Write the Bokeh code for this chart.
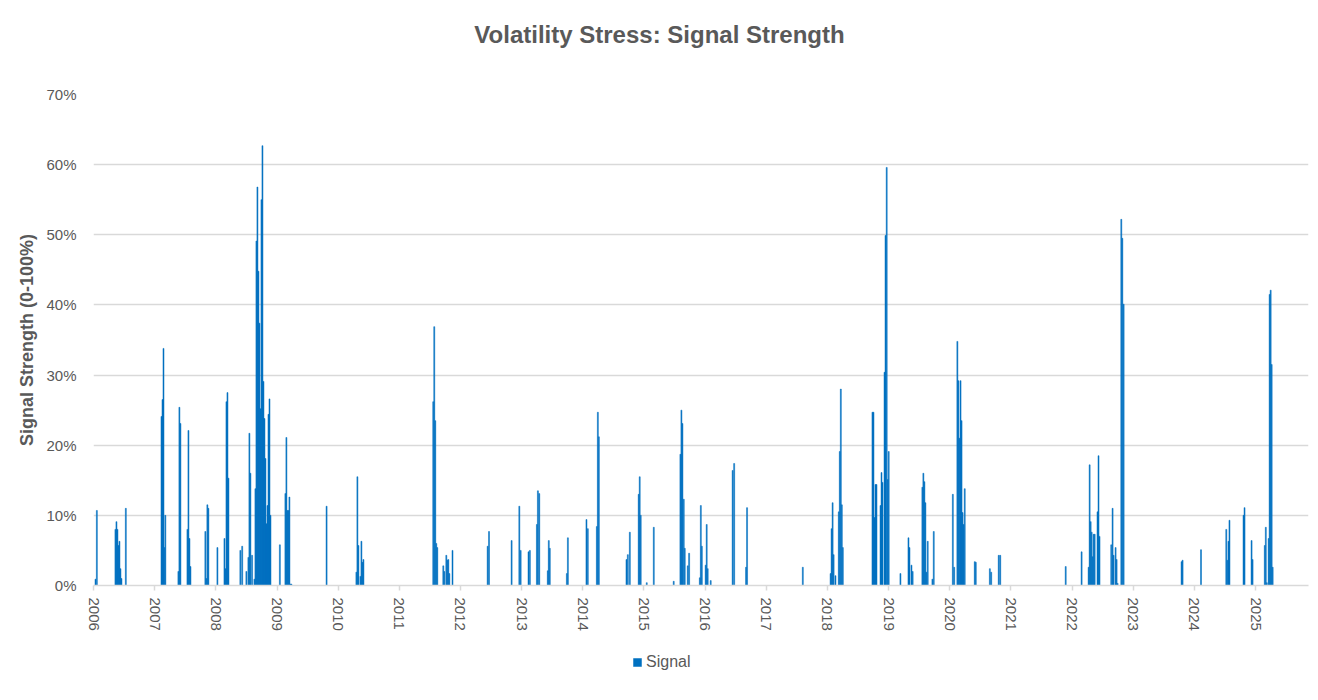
from datetime import datetime
import pandas as pd
from bokeh.plotting import figure
from bokeh.layouts import column
from bokeh.models import (Range1d, FixedTicker, NumeralTickFormatter, DatetimeTickFormatter,
                          Legend, LegendItem, Label, ColumnDataSource)
from bokeh.embed import file_html
from bokeh.resources import INLINE

title_text = "Volatility Stress: Signal Strength"
y_label = "Signal Strength (0-100%)"
series_name = "Signal"
year_ticks = list(range(2006, 2026))
y_tick_pct = [0, 10, 20, 30, 40, 50, 60, 70]

dates = [
    "2006-01-13", "2006-01-21", "2006-05-12", "2006-05-18", "2006-05-24", "2006-05-30", "2006-06-05", "2006-06-11", "2006-06-17", "2006-07-13",
    "2007-02-11", "2007-02-17", "2007-02-23", "2007-02-28", "2007-03-06", "2007-05-23", "2007-05-29", "2007-06-04", "2007-07-16", "2007-07-22",
    "2007-07-28", "2007-08-03", "2007-10-31", "2007-11-06", "2007-11-12", "2007-11-18",
    "2008-01-11", "2008-02-22", "2008-02-28", "2008-03-05", "2008-03-11", "2008-03-17", "2008-05-27", "2008-06-07", "2008-07-02", "2008-07-14",
    "2008-07-20", "2008-07-26", "2008-08-05", "2008-08-19", "2008-08-25", "2008-08-31", "2008-09-06", "2008-09-12", "2008-09-18", "2008-09-24",
    "2008-09-30", "2008-10-06", "2008-10-12", "2008-10-18", "2008-10-24", "2008-10-30", "2008-11-05", "2008-11-11", "2008-11-17", "2008-11-23",
    "2009-01-18", "2009-02-20", "2009-02-26", "2009-03-04", "2009-03-10", "2009-03-16", "2009-03-22", "2009-03-28", "2009-10-24",
    "2010-04-20", "2010-04-26", "2010-05-02", "2010-05-14", "2010-05-20", "2010-05-26", "2010-06-01",
    "2011-07-23", "2011-07-29", "2011-08-04", "2011-08-10", "2011-08-16", "2011-09-21", "2011-09-27", "2011-10-09", "2011-10-15", "2011-10-21",
    "2011-10-27", "2011-11-15",
    "2012-06-12", "2012-06-20", "2012-11-02", "2012-12-18", "2012-12-26",
    "2013-02-11", "2013-02-19", "2013-04-02", "2013-04-08", "2013-04-16", "2013-06-06", "2013-06-12", "2013-06-18", "2013-09-28", "2013-10-04",
    "2014-01-23", "2014-01-31", "2014-03-26", "2014-04-01", "2014-04-07", "2014-09-19", "2014-09-27", "2014-10-09", "2014-12-01", "2014-12-07",
    "2014-12-13",
    "2015-01-18", "2015-03-01", "2015-06-28", "2015-08-07", "2015-08-13", "2015-08-19", "2015-08-27", "2015-09-02", "2015-09-20", "2015-09-28",
    "2015-12-01", "2015-12-07", "2015-12-13",
    "2016-01-05", "2016-01-11", "2016-01-17", "2016-02-04", "2016-06-14", "2016-06-23", "2016-09-02", "2016-09-08",
    "2017-08-07",
    "2018-01-20", "2018-01-26", "2018-02-01", "2018-02-07", "2018-02-18", "2018-03-10", "2018-03-16", "2018-03-22", "2018-03-28", "2018-04-03",
    "2018-09-27", "2018-10-03", "2018-10-09", "2018-10-15", "2018-10-21", "2018-11-14", "2018-11-20", "2018-11-26", "2018-12-08", "2018-12-14",
    "2018-12-21", "2018-12-27",
    "2019-01-02", "2019-03-13", "2019-04-30", "2019-05-06", "2019-05-18", "2019-05-25", "2019-07-22", "2019-07-28", "2019-08-03", "2019-08-09",
    "2019-08-15", "2019-08-23", "2019-09-20", "2019-09-28",
    "2020-01-20", "2020-01-28", "2020-02-16", "2020-02-22", "2020-02-28", "2020-03-06", "2020-03-12", "2020-03-18", "2020-03-24", "2020-03-31",
    "2020-05-30", "2020-06-05", "2020-08-28", "2020-09-05", "2020-10-20", "2020-10-29",
    "2021-11-24",
    "2022-02-27", "2022-04-10", "2022-04-16", "2022-04-22", "2022-04-28", "2022-05-04", "2022-05-10", "2022-05-16", "2022-06-02", "2022-06-08",
    "2022-06-14", "2022-08-23", "2022-08-31", "2022-09-06", "2022-09-18", "2022-09-24", "2022-09-30", "2022-10-22", "2022-10-28", "2022-11-05",
    "2023-10-17", "2023-10-23",
    "2024-02-10", "2024-07-10", "2024-07-16", "2024-07-23", "2024-07-29", "2024-10-21", "2024-10-27", "2024-12-08", "2024-12-14",
    "2025-02-25", "2025-03-03", "2025-03-09", "2025-03-20", "2025-03-26", "2025-04-01", "2025-04-07", "2025-04-13",
]

signal_pct = [
    0.9, 10.7, 8.0, 9.1, 8.0, 5.7, 6.3, 2.4, 1.0, 11.0,
    24.1, 26.5, 33.8, 5.4, 10.0, 2.0, 25.4, 23.1, 8.0, 22.1,
    6.7, 2.7, 7.7, 1.0, 11.5, 11.0,
    5.4, 6.7, 2.4, 26.2, 27.5, 15.3, 5.0, 5.6, 2.0, 4.0,
    21.7, 16.0, 4.3, 0.9, 13.8, 49.1, 56.8, 44.8, 37.4, 25.2,
    55.0, 62.7, 29.1, 23.8, 18.1, 8.8, 11.4, 24.4, 26.6, 10.0,
    5.8, 13.1, 21.1, 10.7, 10.7, 12.6, 0.2, 0.2, 11.3,
    1.9, 15.5, 5.7, 1.3, 6.3, 3.3, 3.7,
    26.2, 36.9, 23.5, 6.0, 5.4, 2.8, 2.0, 4.3, 3.6, 3.7,
    1.7, 5.0,
    5.6, 7.7, 6.4, 11.3, 5.0,
    4.8, 5.0, 8.7, 13.5, 13.1, 2.1, 6.4, 5.3, 1.7, 6.8,
    9.4, 8.1, 8.4, 24.7, 21.2, 3.7, 4.4, 7.6, 13.0, 15.5,
    10.0,
    0.4, 8.3, 0.6, 18.7, 25.0, 23.1, 12.3, 5.3, 2.8, 4.6,
    1.1, 11.4, 5.6,
    2.9, 8.7, 2.4, 0.7, 16.4, 17.4, 2.6, 11.1,
    2.6,
    1.7, 8.1, 11.8, 4.4, 1.4, 10.5, 19.1, 28.0, 11.5, 5.4,
    24.7, 24.7, 9.7, 14.4, 14.4, 11.4, 16.1, 14.7, 30.4, 49.9,
    59.6, 15.1,
    19.1, 1.7, 6.8, 5.4, 2.9, 2.0, 14.0, 16.0, 14.8, 11.8,
    1.9, 6.3, 0.9, 7.7,
    13.0, 2.6, 34.8, 29.2, 21.0, 29.2, 23.5, 10.4, 8.7, 13.8,
    3.4, 3.3, 2.4, 1.9, 4.3, 4.3,
    2.7,
    4.8, 2.6, 17.2, 9.1, 7.6, 4.1, 7.3, 7.3, 10.5, 18.5,
    7.0, 5.8, 11.0, 4.3, 5.4, 3.7, 0.3, 52.2, 49.5, 40.1,
    3.4, 3.6,
    5.1, 8.0, 3.6, 6.3, 9.3, 10.0, 11.1, 6.4, 3.7,
    5.7, 8.3, 0.4, 6.7, 41.5, 42.1, 31.5, 2.6,
]

BAR = "#0070C0"
TXT = "#595959"
GRID = "#D9D9D9"
W = 1318
X_START, X_END = datetime(2006, 1, 1), datetime(2025, 11, 13)

src = ColumnDataSource(dict(date=pd.to_datetime(dates), signal=[v / 100 for v in signal_pct]))

# ---------- title strip ----------
head = figure(width=W, height=70, output_backend="svg", toolbar_location=None,
              x_axis_location=None, y_axis_location=None, min_border=0,
              x_range=Range1d(0, 1), y_range=Range1d(0, 1))
head.outline_line_color = None
head.grid.grid_line_color = None
# screen units are relative to the strip's frame (aligned with the chart frame), y upward from its bottom
head.add_layout(Label(x=566, y=36, x_units="screen", y_units="screen", text=title_text,
                      text_align="center", text_baseline="alphabetic",
                      text_font="Liberation Sans", text_font_style="bold",
                      text_font_size="24px", text_color=TXT))

# ---------- main chart ----------
p = figure(width=W, height=570, x_axis_type="datetime",
           x_range=Range1d(X_START, X_END), y_range=Range1d(0, 0.7),
           output_backend="svg", toolbar_location=None,
           min_border_left=93, min_border_right=10, min_border_top=24, min_border_bottom=55)
p.outline_line_color = None
p.background_fill_color = "white"

r = p.vbar(x="date", top="signal", bottom=0, width=6 * 86400000, source=src,
           fill_color=BAR, line_color=BAR, line_width=0.5)

p.yaxis.ticker = FixedTicker(ticks=[v / 100 for v in y_tick_pct])
p.yaxis.formatter = NumeralTickFormatter(format="0%")
p.yaxis.axis_line_color = None
p.yaxis.major_tick_line_color = None
p.yaxis.major_tick_out = 0
p.yaxis.major_tick_in = 0
p.yaxis.minor_tick_line_color = None
p.yaxis.minor_tick_out = 0
p.yaxis.major_label_standoff = 17
p.yaxis.major_label_text_font = "Liberation Sans"
p.yaxis.major_label_text_font_size = "15px"
p.yaxis.major_label_text_color = TXT
p.yaxis.axis_label = y_label
p.yaxis.axis_label_text_font = "Liberation Sans"
p.yaxis.axis_label_text_font_style = "bold"
p.yaxis.axis_label_text_font_size = "18px"
p.yaxis.axis_label_text_color = TXT
p.yaxis.axis_label_standoff = 6

p.xaxis.ticker = FixedTicker(ticks=[datetime(y, 1, 1).timestamp() * 1000 for y in year_ticks])
fmt = "%Y"
p.xaxis.formatter = DatetimeTickFormatter(microseconds=fmt, milliseconds=fmt, seconds=fmt, minsec=fmt,
                                          minutes=fmt, hourmin=fmt, hours=fmt, days=fmt, months=fmt, years=fmt)
p.xaxis.major_label_orientation = "vertical"
p.xaxis.axis_line_color = GRID
p.xaxis.axis_line_width = 1.5
p.xaxis.major_tick_line_color = GRID
p.xaxis.major_tick_line_width = 1.5
p.xaxis.major_tick_in = 0
p.xaxis.major_tick_out = 5
p.xaxis.minor_tick_line_color = None
p.xaxis.minor_tick_out = 0
p.xaxis.major_label_standoff = 7
p.xaxis.major_label_text_font = "Liberation Sans"
p.xaxis.major_label_text_font_size = "15px"
p.xaxis.major_label_text_color = TXT

p.xgrid.grid_line_color = None
p.ygrid.grid_line_color = GRID
p.ygrid.grid_line_width = 1.3

# ---------- legend strip ----------
# same series with a y range above all values, so the bars stay hidden and only the key shows
leg = figure(width=W, height=60, output_backend="svg", toolbar_location=None,
             x_axis_location=None, y_axis_location=None, min_border=0,
             x_range=Range1d(X_START, X_END), y_range=Range1d(2, 3))
leg.outline_line_color = None
leg.grid.grid_line_color = None
key = leg.vbar(x="date", top="signal", bottom=0, width=6 * 86400000, source=src,
               fill_color=BAR, line_color=BAR, line_width=0.5)
legend = Legend(items=[LegendItem(label=series_name, renderers=[key])], orientation="horizontal",
                location=(539, 29), border_line_color=None, background_fill_alpha=0,
                glyph_width=10, glyph_height=10, label_standoff=4,
                label_text_font="Liberation Sans", label_text_font_size="16px", label_text_color=TXT,
                padding=2, margin=0)
leg.add_layout(legend, "center")

open("out.html", "w").write(file_html(column(head, p, leg, spacing=0), INLINE))
